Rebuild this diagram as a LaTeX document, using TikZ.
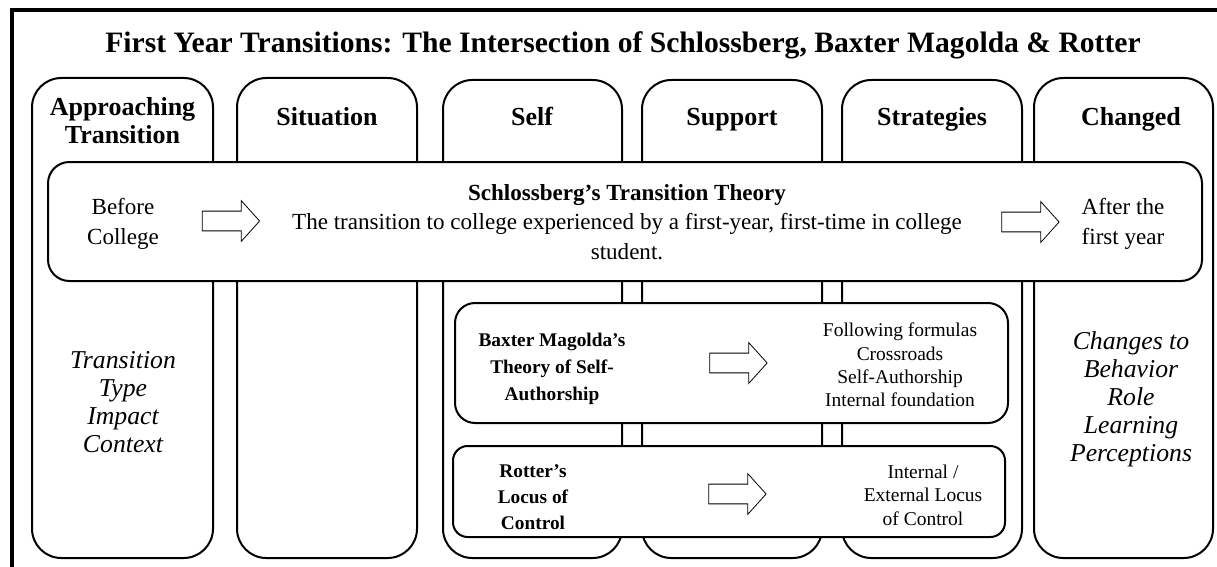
\documentclass[tikz,border=0pt]{standalone}
\usepackage{fontspec}
\setmainfont{Liberation Serif}
\usetikzlibrary{shapes.arrows}

\begin{document}
\begin{tikzpicture}[x=0.75pt, y=-0.75pt,
  col/.style={draw, line width=1.5pt, rounded corners=22pt},
  band/.style={draw, fill=white, line width=1.5pt, rounded corners=16pt},
  head/.style={align=center, inner sep=0, font=\fontsize{19.5}{21}\selectfont\bfseries},
  ital/.style={align=center, inner sep=0, font=\fontsize{19.3}{21}\selectfont\itshape},
  txt/.style={align=center, inner sep=0, font=\fontsize{17.3}{22}\selectfont},
  small/.style={align=center, inner sep=0, font=\fontsize{14.6}{17.6}\selectfont},
  smallbf/.style={align=center, inner sep=0, font=\fontsize{14.5}{20}\selectfont\bfseries},
  blockarrow/.style={single arrow, draw, line width=0.6pt, inner xsep=0pt, inner ysep=7.1pt,
    minimum height=43pt, single arrow head extend=7.9pt, single arrow tip angle=96}]
\useasboundingbox (0,0) rectangle (1217,567);
\draw [line width=2.6pt] (12,10) rectangle (1240,590);
% the six columns
\foreach \l/\t/\r in {32/78/213, 237/78/417, 443/80/622, 642/80/822, 842/80/1022, 1034/78/1213}
  \draw [col] (\l,\t) rectangle (\r,558);
% bands on top of the columns
\draw [band] (48,162) rectangle (1202,281);
\draw [band, rounded corners=15pt] (455,303) rectangle (1008,423);
\draw [band, rounded corners=11pt] (453,446) rectangle (1005,537);

\node [font=\fontsize{22.2}{26}\selectfont\bfseries] (title) at (623,45)
  {First Year Transitions: The Intersection of Schlossberg, Baxter Magolda \& Rotter};
\node [head] (approach) at (122.5,121) {Approaching\\Transition};
\node [head, anchor=base] (situation) at (327,125) {Situation};
\node [head, anchor=base] (self) at (532,125) {Self};
\node [head, anchor=base] (support) at (732,125) {Support};
\node [head, anchor=base] (strategies) at (932,125) {Strategies};
\node [head, anchor=base] (changed) at (1131,125) {Changed};

\node [txt] (before) at (123,224) {Before\\College};
\node [blockarrow] (arrowin) at (226.5,221) {};
\node [txt] (theory) at (627,222) {\textbf{Schlossberg’s Transition Theory}\\
  The transition to college experienced by a first-year, first-time in college\\student.};
\node [blockarrow] (arrowout) at (1026,222) {};
\node [txt] (after) at (1123,224) {After the\\first year};

\node [ital] (factors) at (123,402) {Transition\\Type\\Impact\\Context};
\node [ital] (changes) at (1131,399) {Changes to\\Behavior\\Role\\Learning\\Perceptions};

\node [smallbf] (baxter) at (552,369) {Baxter Magolda’s\\Theory of Self-\\Authorship};
\node [blockarrow] (arrowbaxter) at (734,363) {};
\node [small] (phases) at (900,365) {Following formulas\\Crossroads\\Self-Authorship\\Internal foundation};

\node [smallbf, font=\fontsize{14.5}{19.5}\selectfont\bfseries] (rotter) at (533,497) {Rotter’s\\Locus of\\Control};
\node [blockarrow] (arrowrotter) at (733,494) {};
\node [small] (locus) at (923,495) {Internal /\\External Locus\\of Control};
\end{tikzpicture}
\end{document}
